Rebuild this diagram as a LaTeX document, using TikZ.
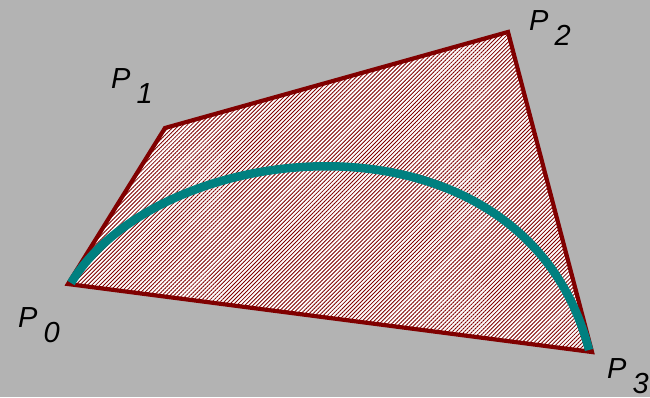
\documentclass[tikz,border=0pt]{standalone}
\usepackage{fontspec}
\setmainfont{Liberation Sans}
\usetikzlibrary{patterns.meta}
\definecolor{bg}{RGB}{179,179,179}
\definecolor{edge}{RGB}{128,0,0}
\definecolor{curve}{RGB}{0,128,128}
\tikzset{
  lbl/.style={anchor=base west,inner sep=0pt,font=\fontsize{29}{29}\selectfont\itshape},
  hull/.style={draw=edge,line width=4.2pt,line join=miter,fill=white,
    postaction={pattern={Lines[angle=45,distance=2.85pt,line width=0.85pt]},pattern color=edge}},
  bez/.style={draw=curve,line width=8.5pt}
}
\begin{document}
\begin{tikzpicture}[x=1pt,y=-1pt]
\fill[bg] (0,0) rectangle (650,397);
\useasboundingbox (0,0) rectangle (650,397);
\coordinate (p0) at (68,284);
\coordinate (p1) at (165,128);
\coordinate (p2) at (508,32);
\coordinate (p3) at (592,352);
\coordinate (s0) at (71,283);
\coordinate (s3) at (589,350);
\coordinate (c1) at (161,134);
\coordinate (c2) at (524,99);
\draw[hull] (p0) -- (p1) -- (p2) -- (p3) -- cycle;
\draw[bez] (s0) .. controls (c1) and (c2) .. (s3);
\node[lbl] (l0) at (18,327) {P\hspace{6pt}\raisebox{-15pt}{0}};
\node[lbl] (l1) at (111,88) {P\hspace{6pt}\raisebox{-15pt}{1}};
\node[lbl] (l2) at (529,30) {P\hspace{6pt}\raisebox{-15pt}{2}};
\node[lbl] (l3) at (607,378) {P\hspace{6pt}\raisebox{-15pt}{3}};
\end{tikzpicture}
\end{document}
